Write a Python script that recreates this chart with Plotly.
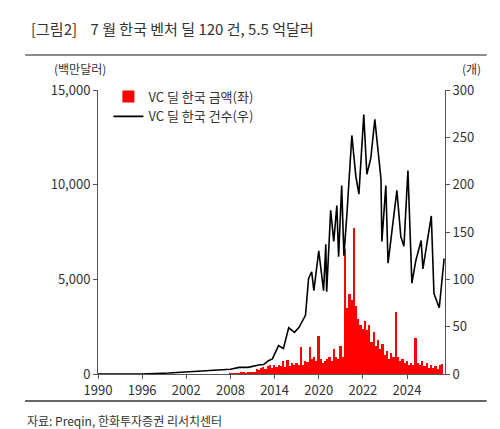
import plotly.graph_objects as go

tick_labels = ["1990", "1996", "2002", "2008", "2014", "2020", "2022", "2024"]

# period positions (in axis tick units) and deal counts
cnt_t = [0.0, 1.0, 1.6, 2.0, 2.5, 3.0, 3.2, 3.4, 3.64, 3.75, 3.86, 3.95, 4.09, 4.2, 4.32, 4.45,
         4.55, 4.70, 4.77, 4.84, 4.89,
         5.0, 5.11, 5.16, 5.18, 5.27, 5.34, 5.41, 5.45, 5.52, 5.57, 5.64, 5.75, 5.84, 5.91,
         6.02, 6.09, 6.18, 6.27, 6.41, 6.43, 6.52, 6.57, 6.66, 6.77, 6.86, 6.93, 7.02,
         7.11, 7.2, 7.32, 7.36, 7.55, 7.61, 7.73, 7.84]
cnt_v = [0, 0, 1, 2, 3, 5, 7, 7, 9.5, 10, 14, 16, 30, 27, 49, 44,
         49, 62, 101, 108, 88,
         130, 88, 137, 87, 173, 140, 178, 124, 199, 125, 170, 252, 209, 190,
         274, 211, 228, 269, 206, 140, 199, 117, 153, 194, 145, 135, 215,
         96, 120, 141, 111, 167, 85, 70, 122]

# monthly-ish amounts (USD mn), starting at t=3.0, step 0.05
amt_start = 3.0
amt_step = 0.05
amt_v = [30, 20, 40, 50, 30, 60, 80, 50, 90, 70, 100, 120,
         250, 200, 300, 350, 250, 400, 500, 300, 450, 350, 500, 400, 700, 350, 750, 400,
         600, 500, 600, 450, 1400, 500, 700, 650, 1400, 800, 900, 700, 2000, 800, 600,
         700, 800, 900, 700, 1300, 900, 800, 1500, 900, 6600, 3500, 4200, 3900, 7700,
         3600, 2900, 2600, 2400, 2800, 2300, 2600, 1700, 2200, 1500, 1800, 1300, 1600,
         1000, 1200, 800, 1100, 900, 3300, 900, 700, 800, 600, 700, 500, 600, 500, 1900,
         600, 500, 700, 400, 600, 300, 500, 300, 400, 250, 500, 550]
amt_t = [amt_start + i * amt_step for i in range(len(amt_v))]

font = "Noto Sans CJK KR"
fig = go.Figure()
fig.add_trace(go.Bar(x=amt_t, y=amt_v, name="VC 딜 한국 금액(좌)", marker_color="#ff0000",
                     marker_line_width=0, width=0.04))
fig.add_trace(go.Scatter(x=cnt_t, y=cnt_v, name="VC 딜 한국 건수(우)", yaxis="y2",
                         mode="lines", line=dict(color="black", width=1.6)))

ax = dict(showline=True, linecolor="#555", ticks="outside", ticklen=4, tickcolor="#555",
          showgrid=False, zeroline=False, tickfont=dict(size=13))
fig.update_layout(
    width=500, height=429, plot_bgcolor="white", paper_bgcolor="white",
    margin=dict(l=90, r=63, t=82, b=63),
    font=dict(family=font, size=12, color="#333"),
    bargap=0, showlegend=True,
    legend=dict(x=0.03, y=1.03, xanchor="left", yanchor="top", bgcolor="rgba(0,0,0,0)",
                font=dict(size=13), tracegroupgap=2),
    xaxis=dict(range=[0, 7.86], tickvals=list(range(8)), ticktext=tick_labels, **ax),
    yaxis=dict(range=[0, 15000], tickvals=[0, 5000, 10000, 15000], tickformat=",", **ax),
    yaxis2=dict(range=[0, 300], tickvals=[0, 50, 100, 150, 200, 250, 300], overlaying="y",
                side="right", **ax),
    annotations=[
        dict(text="[그림2]    7 월 한국 벤처 딜 120 건, 5.5 억달러", x=-0.2, y=1.218,
             xref="paper", yref="paper", showarrow=False, xanchor="left", yanchor="middle",
             font=dict(size=15, color="#333")),
        dict(text="(백만달러)", x=0.03, y=1.04, xref="paper", yref="paper", showarrow=False,
             xanchor="right", yanchor="bottom", font=dict(size=12)),
        dict(text="(개)", x=1.11, y=1.04, xref="paper", yref="paper", showarrow=False,
             xanchor="right", yanchor="bottom", font=dict(size=12)),
        dict(text="자료: Preqin, 한화투자증권 리서치센터", x=-0.21, y=-0.125, xref="paper",
             yref="paper", showarrow=False, xanchor="left", yanchor="top",
             font=dict(size=12)),
    ],
)
fig.add_shape(type="line", xref="paper", yref="paper", x0=-0.21, x1=1.12, y0=1.123, y1=1.123,
              line=dict(color="#666", width=1.5))
fig.add_shape(type="line", xref="paper", yref="paper", x0=-0.21, x1=1.12, y0=-0.095, y1=-0.095,
              line=dict(color="#333", width=1.5))
fig.write_html("out.html")
